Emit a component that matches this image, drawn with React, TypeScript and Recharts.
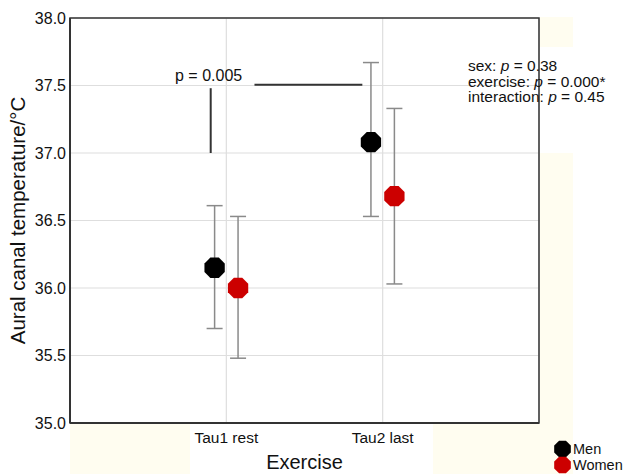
import React from 'react'
import { ScatterChart, Scatter, XAxis, YAxis, CartesianGrid, ErrorBar, ReferenceLine, ReferenceArea } from 'recharts'

const categories = ['Tau1 rest', 'Tau2 last']
const menMean = [36.15, 37.08]
const menLow = [35.70, 36.53]
const menHigh = [36.61, 37.67]
const womenMean = [36.0, 36.68]
const womenLow = [35.48, 36.03]
const womenHigh = [36.53, 37.33]
const yTicks = [35.0, 35.5, 36.0, 36.5, 37.0, 37.5, 38.0]
const statLines = [
  ['sex: ', ' = 0.38'],
  ['exercise: ', ' = 0.000*'],
  ['interaction: ', ' = 0.45'],
]
const pairText = 'p = 0.005'

const FONT = '"Liberation Sans", Arial, sans-serif'
const SHIFT = 0.075

const menData = menMean.map((m, i) => ({ x: i + 1 - SHIFT, y: m, err: [m - menLow[i], menHigh[i] - m] }))
const womenData = womenMean.map((m, i) => ({ x: i + 1 + SHIFT, y: m, err: [m - womenLow[i], womenHigh[i] - m] }))

function Octagon(props: any) {
  const { cx, cy, fill, r = 11 } = props
  const pts: string[] = []
  for (let k = 0; k < 8; k++) {
    const a = Math.PI / 8 + (k * Math.PI) / 4
    pts.push(`${cx + r * Math.cos(a)},${cy + r * Math.sin(a)}`)
  }
  return <polygon points={pts.join(' ')} fill={fill} />
}

function LegendBox() {
  const items = [
    { name: 'Men', color: '#000000' },
    { name: 'Women', color: '#cc0000' },
  ]
  return (
    <div style={{ position: 'absolute', left: 554, top: 441, fontSize: 14.5, lineHeight: '16px', color: '#111' }}>
      {items.map((it) => (
        <div key={it.name} style={{ display: 'flex', alignItems: 'center' }}>
          <svg width={17} height={16} style={{ overflow: 'visible' }}>
            <Octagon cx={8.5} cy={8} r={9} fill={it.color} />
          </svg>
          <span style={{ marginLeft: 2 }}>{it.name}</span>
        </div>
      ))}
    </div>
  )
}

export default function App() {
  return (
    <div style={{ position: 'absolute', left: 0, top: 0, width: 631, height: 474, background: '#fff', fontFamily: FONT }}>
      <div style={{ position: 'absolute', left: 70, top: 424, width: 120, height: 50, background: '#fffdf0' }} />
      <div style={{ position: 'absolute', left: 433, top: 424, width: 140, height: 50, background: '#fffdf0' }} />
      <div style={{ position: 'absolute', left: 540, top: 17, width: 33, height: 30, background: '#fffdf0' }} />
      <div style={{ position: 'absolute', left: 540, top: 153, width: 33, height: 271, background: '#fffdf0' }} />
      <div style={{ position: 'absolute', left: 0, top: 0 }}>
        <ScatterChart width={631} height={474} margin={{ top: 18, right: 92, bottom: 0, left: 0 }}>
          <CartesianGrid stroke="#dedede" strokeWidth={1.2} />
          <XAxis
            type="number"
            dataKey="x"
            domain={[0, 3]}
            ticks={[1, 2]}
            tickFormatter={(v: number) => categories[v - 1] ?? ''}
            height={51}
            stroke="#333"
            strokeWidth={2}
            tickSize={0}
            tickMargin={9}
            tick={{ fill: '#111', fontSize: 15.5, fontFamily: FONT }}
            label={{ value: 'Exercise', position: 'insideBottom', offset: 5, fill: '#111', fontSize: 20, fontFamily: FONT }}
          />
          <XAxis
            xAxisId="top"
            orientation="top"
            type="number"
            domain={[0, 3]}
            ticks={[1, 2]}
            mirror
            axisLine={false}
            tick={false}
            tickSize={3}
            stroke="#333"
            height={0}
          />
          <YAxis
            type="number"
            dataKey="y"
            domain={[35, 38]}
            ticks={yTicks}
            tickFormatter={(v: number) => v.toFixed(1)}
            width={70}
            stroke="#333"
            strokeWidth={2}
            tickSize={0}
            tickMargin={4}
            tick={{ fill: '#111', fontSize: 16, fontFamily: FONT }}
            label={{ value: 'Aural canal temperature/°C', angle: -90, position: 'insideLeft', offset: 18, fill: '#111', fontSize: 20.5, fontFamily: FONT, style: { textAnchor: 'middle' } }}
          />
          <YAxis
            yAxisId="right"
            orientation="right"
            type="number"
            domain={[35, 38]}
            ticks={yTicks}
            mirror
            axisLine={false}
            tick={false}
            tickSize={3}
            stroke="#333"
            width={0}
          />
          <ReferenceArea x1={0} x2={3} y1={35} y2={38} fill="none" stroke="#333" strokeWidth={1.5} />
          <ReferenceLine segment={[{ x: 0.9, y: 37.0 }, { x: 0.9, y: 37.48 }]} stroke="#333" strokeWidth={2} />
          <ReferenceLine segment={[{ x: 1.18, y: 37.505 }, { x: 1.87, y: 37.505 }]} stroke="#333" strokeWidth={2} />
          <Scatter name="Men" data={menData} fill="#000000" shape={<Octagon />} isAnimationActive={false}>
            <ErrorBar dataKey="err" direction="y" width={8} stroke="#8a8a8a" strokeWidth={1.5} />
          </Scatter>
          <Scatter name="Women" data={womenData} fill="#cc0000" shape={<Octagon />} isAnimationActive={false}>
            <ErrorBar dataKey="err" direction="y" width={8} stroke="#8a8a8a" strokeWidth={1.5} />
          </Scatter>
        </ScatterChart>
      </div>
      <LegendBox />
      <div style={{ position: 'absolute', left: 175, top: 67, fontSize: 16, color: '#111' }}>{pairText}</div>
      <div style={{ position: 'absolute', left: 468, top: 58, fontSize: 15.5, lineHeight: '15.5px', color: '#111' }}>
        {statLines.map(([a, b]) => (
          <div key={a}>
            {a}<i>p</i>{b}
          </div>
        ))}
      </div>
    </div>
  )
}
